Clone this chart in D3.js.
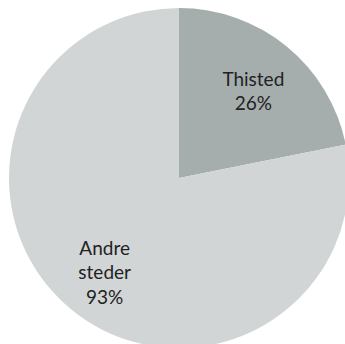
<!DOCTYPE html>
<html><head><meta charset="utf-8">
<script src="https://cdn.jsdelivr.net/npm/d3@7"></script>
<style>html,body{margin:0;padding:0;background:#fff;overflow:hidden}</style>
</head><body>
<svg id="chart" width="345" height="344"></svg>
<script>
const categories = ["Thisted", "Andre steder"];
const values = [26, 93];
const labels = [["Thisted", "26%"], ["Andre", "steder", "93%"]];
const colors = ["#a5adad", "#d1d5d6"];

const svg = d3.select("#chart");
const cx = 179, cy = 178, r = 170;
const g = svg.append("g").attr("transform", `translate(${cx},${cy})`);
const pie = d3.pie().sort(null).value(d => d)(values);
const arc = d3.arc().innerRadius(0).outerRadius(r);
const labelArc = d3.arc().innerRadius(r * 0.69).outerRadius(r * 0.69);
const color = d3.scaleOrdinal().domain(categories).range(colors);

g.selectAll("path").data(pie).join("path")
  .attr("d", arc)
  .attr("fill", (d, i) => color(categories[i]));

const lh = 24.5;
g.selectAll("text.lbl").data(pie).join("text")
  .attr("class", "lbl")
  .attr("text-anchor", "middle")
  .attr("font-family", "Lato, sans-serif")
  .attr("font-size", 19)
  .attr("fill", "#222")
  .each(function(d, i) {
    const [x, y] = labelArc.centroid(d);
    const lines = labels[i];
    const t = d3.select(this);
    lines.forEach((s, k) => {
      t.append("tspan")
        .attr("x", x)
        .attr("y", y + 4 + (k - (lines.length - 1) / 2) * lh)
        .attr("dy", "0.35em")
        .text(s);
    });
  });
</script>
</body></html>
